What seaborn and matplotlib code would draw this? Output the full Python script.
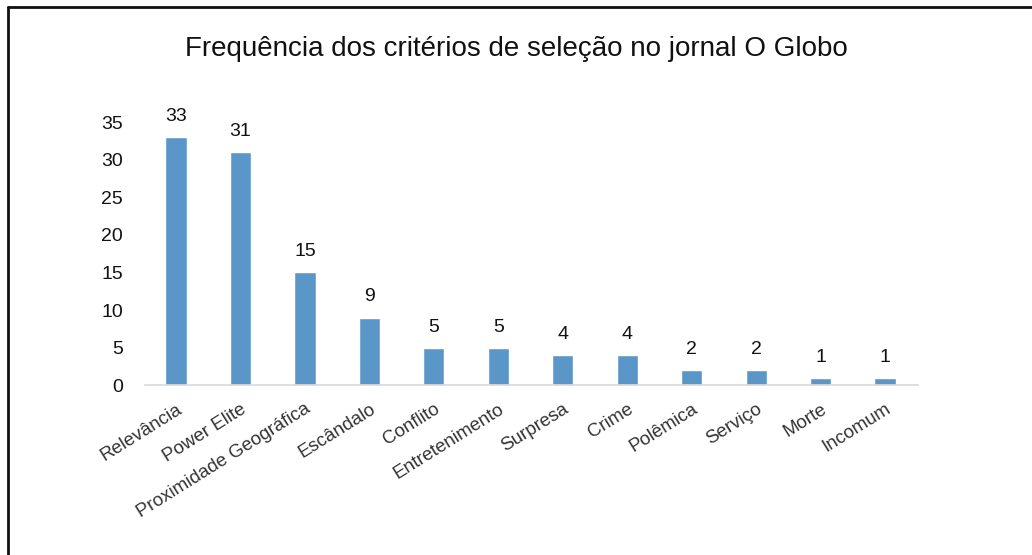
# bar chart of selection criteria frequency (O Globo)
import pandas as pd
import matplotlib
matplotlib.use("Agg")
import matplotlib.pyplot as plt
import seaborn as sns

# data
categorias = ["Relevância", "Power Elite", "Proximidade Geográfica", "Escândalo",
              "Conflito", "Entretenimento", "Surpresa", "Crime", "Polêmica",
              "Serviço", "Morte", "Incomum"]
frequencias = [33, 31, 15, 9, 5, 5, 4, 4, 2, 2, 1, 1]
yticks = [0, 5, 10, 15, 20, 25, 30, 35]

sns.set_style("white")
plt.rcParams["font.family"] = ["Liberation Sans", "DejaVu Sans"]

df = pd.DataFrame({"criterio": categorias, "freq": frequencias})

fig = plt.figure(figsize=(10.32, 5.55), dpi=100)
ax = fig.add_axes([0.1405, 0.306, 0.749, 0.474])

sns.barplot(data=df, x="criterio", y="freq", color="#5b96c8", saturation=1,
            width=0.33, ax=ax)

# value labels above bars
for i, v in enumerate(frequencias):
    ax.text(i, v + 1.6, str(v), ha="center", va="bottom", fontsize=14,
            color="#111111", clip_on=False)

ax.set_ylim(0, 35)
ax.set_xlim(-0.48, 11.51)
ax.set_yticks(yticks)
ax.set_xlabel("")
ax.set_ylabel("")
ax.tick_params(axis="y", length=0, pad=16, labelsize=14, labelcolor="#111111")
ax.tick_params(axis="x", length=0, pad=11, labelsize=13.5, labelcolor="#333333")
plt.setp(ax.get_xticklabels(), rotation=32, ha="right", rotation_mode="anchor")

for s in ["top", "right", "left"]:
    ax.spines[s].set_visible(False)
ax.spines["bottom"].set_color("#d9d9d9")
ax.spines["bottom"].set_linewidth(1.2)

fig.text(0.5, 0.912, "Frequência dos critérios de seleção no jornal O Globo",
         ha="center", va="center", fontsize=20, color="#111111")

# outer border (top and left only, like the screenshot)
fig.add_artist(plt.Line2D([0.008, 1.0], [0.987, 0.987], color="#111111",
                          linewidth=2, transform=fig.transFigure))
fig.add_artist(plt.Line2D([0.008, 0.008], [0.0, 0.987], color="#111111",
                          linewidth=2, transform=fig.transFigure))

fig.savefig("out.png", dpi=100)
